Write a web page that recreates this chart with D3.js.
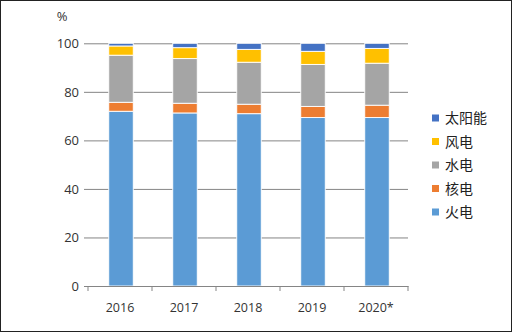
<!DOCTYPE html>
<html>
<head>
<meta charset="utf-8">
<script src="https://cdn.jsdelivr.net/npm/d3@7"></script>
<style>
  html, body { margin: 0; padding: 0; background: #fff; }
  svg { display: block; }
</style>
</head>
<body>
<svg id="chart" width="512" height="332"></svg>
<script>
// Share of electricity generation by source, %
const years = ["2016", "2017", "2018", "2019", "2020*"];
const thermal = [72.0, 71.3, 71.0, 69.4, 69.4];
const nuclear = [3.7, 4.0, 3.9, 4.6, 5.1];
const hydro = [19.4, 18.4, 17.3, 17.3, 17.3];
const wind = [3.8, 4.5, 5.3, 5.4, 6.1];
const solar = [1.1, 1.8, 2.5, 3.3, 2.1];
const yTicks = [0, 20, 40, 60, 80, 100];

const seriesNames = ["火电", "核电", "水电", "风电", "太阳能"];
const seriesKeys = ["thermal", "nuclear", "hydro", "wind", "solar"];
const colors = ["#5B9BD5", "#ED7D31", "#A5A5A5", "#FFC000", "#4472C4"];

const rows = years.map((y, i) => ({
  year: y, thermal: thermal[i], nuclear: nuclear[i], hydro: hydro[i], wind: wind[i], solar: solar[i]
}));

const svg = d3.select("#chart");
const W = 512, H = 332;
const m = { left: 88, right: 408, top: 43.3, bottom: 286 };

// frame
svg.append("rect").attr("x", 0.5).attr("y", 0.5).attr("width", W - 1).attr("height", H - 1)
  .attr("fill", "#fff").attr("stroke", "#222").attr("stroke-width", 1);

const x = d3.scaleBand().domain(years).range([m.left, m.right]).paddingInner(0).paddingOuter(0);
const y = d3.scaleLinear().domain([0, 100]).range([m.bottom, m.top]);

const font = "'Open Sans', 'Liberation Sans', sans-serif";

// gridlines with short outward ticks
const yAxis = d3.axisLeft(y).tickValues(yTicks).tickSize(-(m.right - m.left)).tickPadding(9).tickFormat(d3.format("d"));
const gy = svg.append("g").attr("transform", `translate(${m.left},0)`).call(yAxis);
gy.select(".domain").remove();
gy.selectAll(".tick line").attr("stroke", "#858585").attr("x1", -4).attr("stroke-width", 1);
gy.selectAll(".tick text").attr("fill", "#333").style("font-family", font).style("font-size", "13px");

// stacked bars
const stack = d3.stack().keys(seriesKeys);
const layers = stack(rows);
const barW = 24.5;
svg.append("g").selectAll("g").data(layers).join("g")
  .attr("fill", (d, i) => colors[i])
  .selectAll("rect").data(d => d).join("rect")
  .attr("x", d => x(d.data.year) + x.bandwidth() / 2 - barW / 2 + 1)
  .attr("width", barW)
  .attr("y", d => y(d[1]))
  .attr("height", d => y(d[0]) - y(d[1]))
  .attr("stroke", "#fff").attr("stroke-width", 0.9);

// category axis
const xAxis = d3.axisBottom(x).tickSize(0).tickPadding(17);
const gx = svg.append("g").attr("transform", `translate(0,${m.bottom})`).call(xAxis);
gx.select(".domain").attr("stroke", "#858585");
gx.selectAll(".tick text").attr("fill", "#333").style("font-family", font).style("font-size", "12.5px");
gx.selectAll("line.sep").data(d3.range(years.length + 1)).join("line")
  .attr("class", "sep")
  .attr("x1", i => m.left + i * x.step()).attr("x2", i => m.left + i * x.step())
  .attr("y1", 0).attr("y2", 5).attr("stroke", "#858585");

// unit label
svg.append("text").attr("x", 62).attr("y", 21).attr("text-anchor", "middle")
  .attr("fill", "#333").style("font-family", font).style("font-size", "13px").text("%");

// legend, top entry is the top of the stack
const legendOrder = [4, 3, 2, 1, 0];
const lg = svg.append("g");
legendOrder.forEach((k, j) => {
  const cy = 118 + j * 23.5;
  lg.append("rect").attr("x", 432).attr("y", cy - 3.5).attr("width", 7).attr("height", 7).attr("fill", colors[k]);
  lg.append("text").attr("x", 445).attr("y", cy).attr("dy", "0.36em")
    .attr("fill", "#222").style("font-family", "'Noto Sans CJK SC', sans-serif").style("font-size", "14px")
    .text(seriesNames[k]);
});
</script>
</body>
</html>
